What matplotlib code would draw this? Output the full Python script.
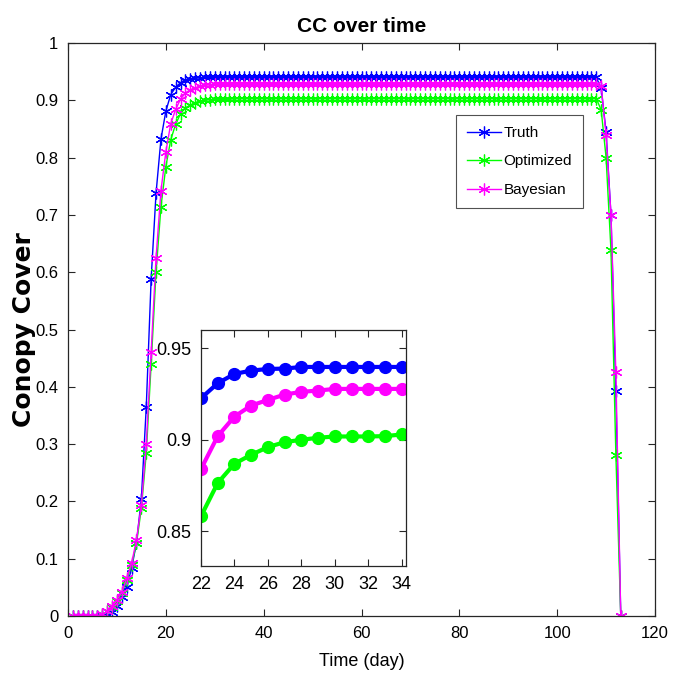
import matplotlib
matplotlib.use("Agg")
import matplotlib.pyplot as plt
from matplotlib import font_manager as fm
import numpy as np

# ---------------- data ----------------
days = list(range(1, 114))

truth = ([0.0] * 8 +
         [0.007, 0.018, 0.034, 0.051, 0.083, 0.128, 0.205, 0.365, 0.589, 0.738, 0.832, 0.881, 0.910] +
         [0.9227, 0.9309, 0.9360, 0.9378, 0.9387, 0.9389] +
         [0.9398] * 7 +
         [0.9398] * 74 +
         [0.921, 0.845, 0.700, 0.393, 0.0])

optimized = ([0.0] * 6 +
             [0.003, 0.008, 0.016, 0.026, 0.040, 0.062, 0.089, 0.127, 0.188, 0.284, 0.440, 0.600, 0.714, 0.784, 0.831] +
             [0.8582, 0.8764, 0.8869, 0.8918, 0.8960, 0.8987, 0.9000, 0.9011, 0.9018, 0.9018, 0.9018, 0.9020, 0.9029] +
             [0.9030] * 74 +
             [0.883, 0.800, 0.638, 0.281, 0.0])

bayesian = ([0.0] * 6 +
            [0.003, 0.008, 0.017, 0.028, 0.042, 0.066, 0.092, 0.133, 0.194, 0.300, 0.461, 0.625, 0.742, 0.810, 0.859] +
            [0.8840, 0.9020, 0.9127, 0.9187, 0.9218, 0.9247, 0.9262, 0.9269, 0.9278, 0.9278, 0.9278, 0.9278, 0.9278] +
            [0.9278] * 74 +
            [0.925, 0.839, 0.700, 0.425, 0.0])

series_names = ["Truth", "Optimized", "Bayesian"]
series_colors = ["#0000ff", "#00ff00", "#ff00ff"]
x_ticks = [0, 20, 40, 60, 80, 100, 120]
y_ticks = [0, 0.1, 0.2, 0.3, 0.4, 0.5, 0.6, 0.7, 0.8, 0.9, 1]
y_tick_labels = ["0", "0.1", "0.2", "0.3", "0.4", "0.5", "0.6", "0.7", "0.8", "0.9", "1"]
inset_first_day, inset_last_day = 22, 34
inset_x_ticks = [22, 24, 26, 28, 30, 32, 34]
inset_y_ticks = [0.85, 0.9, 0.95]
inset_y_tick_labels = ["0.85", "0.9", "0.95"]

# ---------------- fonts ----------------
names = {f.name for f in fm.fontManager.ttflist}
narrow = "Liberation Sans Narrow" if "Liberation Sans Narrow" in names else "Liberation Sans"
plt.rcParams["font.family"] = [narrow, "DejaVu Sans"]

dark = "#262626"
fig = plt.figure(figsize=(6.89, 6.80), dpi=100)
ax = fig.add_axes([68 / 689, 64 / 680, 587 / 689, 573 / 680])

asterisk = (6, 2, 0)
for vals, name, col in zip([truth, optimized, bayesian], series_names, series_colors):
    ax.plot(days, vals, color=col, lw=1.0, marker=asterisk, markersize=8.5,
            markeredgewidth=0.9, label=name)

ax.set_xlim(0, 120)
ax.set_ylim(0, 1)
ax.set_xticks(x_ticks)
ax.set_yticks(y_ticks)
ax.set_yticklabels(y_tick_labels)
ax.tick_params(direction="in", length=5, width=0.8, top=True, right=True,
               labelsize=12, colors=dark, labelcolor="black", pad=7)
for s in ax.spines.values():
    s.set_color(dark)
    s.set_linewidth(0.9)

ax.set_title("CC over time", fontsize=15, fontweight="bold", pad=8)
ax.set_xlabel("Time (day)", fontsize=13, labelpad=9)
ax.set_ylabel("Conopy Cover", fontsize=18, fontweight="bold",
              family="DejaVu Sans")
ax.yaxis.set_label_coords(-0.055, 0.5)

leg = ax.legend(loc="upper right", bbox_to_anchor=(0.877, 0.874), borderaxespad=0,
                fontsize=11, frameon=True, fancybox=False, edgecolor=dark,
                handlelength=2.2, handletextpad=0.2, labelspacing=0.95,
                borderpad=0.7, markerscale=1.0)
leg.get_frame().set_linewidth(0.8)

# ---------------- inset ----------------
axin = fig.add_axes([201 / 689, 114 / 680, 205 / 689, 236 / 680])
d = np.array(days)
mask = (d >= inset_first_day) & (d <= inset_last_day)
for vals, col in zip([truth, bayesian, optimized], [series_colors[0], series_colors[2], series_colors[1]]):
    v = np.array(vals)
    axin.plot(d[mask], v[mask], color=col, lw=3, marker="o", markersize=8.5)
axin.set_xlim(22, 34.25)
axin.set_ylim(0.831, 0.96)
axin.set_xticks(inset_x_ticks)
axin.set_yticks(inset_y_ticks)
axin.set_yticklabels(inset_y_tick_labels)
axin.tick_params(direction="in", length=5, width=0.8, top=True, right=True,
                 labelsize=13, colors=dark, labelcolor="black", pad=7)
for s in axin.spines.values():
    s.set_color(dark)
    s.set_linewidth(0.9)

fig.savefig("out.png", dpi=100)
